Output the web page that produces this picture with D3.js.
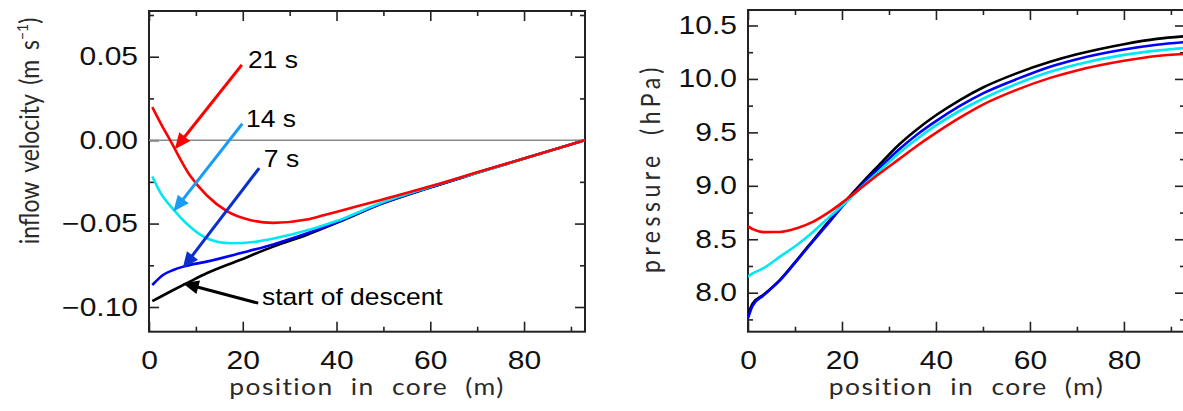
<!DOCTYPE html>
<html lang="en">
<head>
<meta charset="utf-8">
<title>inflow velocity and pressure along the core</title>
<script src="https://cdn.jsdelivr.net/npm/d3@7"></script>
<style>
  body { margin: 0; background: #fff; }
  .num text { font-family: "Liberation Sans", Arial, sans-serif; font-size: 25px; fill: #111;
              transform-box: fill-box; transform-origin: center; transform: scaleX(1.2); }
  .num-y text { transform-origin: right center; }
  .note { font-family: "Liberation Sans", Arial, sans-serif; font-size: 23px; fill: #000;
          transform-box: fill-box; transform-origin: left center; transform: scaleX(1.15); }
  .ttl { font-family: Lato, "DejaVu Sans", sans-serif; font-size: 23px; fill: #2a2a2a; }
</style>
</head>
<body>
<div id="chart"></div>
<script>
// ---- data ----
const xDomain = [0, 93];
const xMajor = [0, 20, 40, 60, 80];
const xMinor = [10, 30, 50, 70, 90];
const velMajor = [-0.10, -0.05, 0, 0.05];
const velMinor = [-0.075, -0.025, 0.025, 0.075];
const presMajor = [8.0, 8.5, 9.0, 9.5, 10.0, 10.5];
const presMinor = [7.75, 8.25, 8.75, 9.25, 9.75, 10.25];

// inflow velocity (m/s) vs position in core (m)
const vBlackX = [0.7, 5.2, 8.7, 12.3, 19.4, 26.5, 33.6, 40.7, 49.3, 60, 70, 80, 93];
const vBlackY = [-0.0965, -0.0898, -0.0848, -0.0798, -0.0718, -0.0638, -0.0568, -0.0488, -0.0385, -0.0284, -0.0196, -0.011, 0];
const vBlueX = [0.7, 3, 5.2, 7.3, 12.3, 19.4, 26.5, 33.6, 40.7, 49.3, 60, 70, 80, 93];
const vBlueY = [-0.0868, -0.0808, -0.0778, -0.0758, -0.0728, -0.0678, -0.0625, -0.056, -0.0485, -0.0383, -0.0283, -0.0196, -0.011, 0];
const vCyanX = [0.7, 2.3, 5.2, 8.7, 12.3, 17.3, 23, 30, 40.7, 49.3, 60, 70, 80, 93];
const vCyanY = [-0.0218, -0.0308, -0.0415, -0.0518, -0.0588, -0.0618, -0.0608, -0.0568, -0.0478, -0.0378, -0.028, -0.0195, -0.011, 0];
const vRedX = [0.7, 2.7, 4.5, 8.7, 12.3, 16.6, 21.5, 26.5, 33.6, 37, 40.7, 49.3, 60, 70, 80, 93];
const vRedY = [0.0198, 0.009, 0, -0.021, -0.033, -0.0425, -0.0478, -0.0496, -0.0476, -0.0452, -0.0424, -0.036, -0.0277, -0.0193, -0.011, 0];

// pressure (hPa) vs position in core (m)
const pX = [0, 1, 3.3, 6.8, 10.4, 13.9, 17.4, 21, 24.5, 28, 32, 36, 40, 45, 50, 57, 64.3, 70, 80, 87, 93];
const pBlack = [7.80, 7.90, 7.98, 8.12, 8.306, 8.493, 8.68, 8.87, 9.04, 9.20, 9.38, 9.53, 9.66, 9.80, 9.92, 10.05, 10.16, 10.23, 10.325, 10.375, 10.40];
const pBlue = [7.76, 7.88, 7.975, 8.115, 8.30, 8.485, 8.665, 8.855, 9.02, 9.17, 9.335, 9.48, 9.605, 9.745, 9.865, 9.995, 10.115, 10.185, 10.275, 10.32, 10.345];
const pCyan = [8.15, 8.18, 8.229, 8.337, 8.447, 8.571, 8.712, 8.852, 9.0, 9.14, 9.30, 9.44, 9.565, 9.70, 9.815, 9.95, 10.067, 10.135, 10.225, 10.265, 10.29];
const pRed = [8.62, 8.595, 8.567, 8.568, 8.603, 8.665, 8.758, 8.875, 8.995, 9.115, 9.245, 9.375, 9.495, 9.635, 9.76, 9.895, 10.01, 10.08, 10.17, 10.215, 10.235];

// annotations on the velocity panel (data units)
const noteText = ['21 s', '14 s', '7 s', 'start of descent'];
const notePos = [[21.1, 0.0435], [20.7, 0.0076], [24.5, -0.0164], [24.1, -0.0987]];
const arrowTail = [[19.8, 0.0451], [19.9, 0.0098], [23.5, -0.0168], [23.3, -0.0977]];
const arrowTip = [[5.5, -0.0054], [5.2, -0.0428], [7.2, -0.0767], [7.2, -0.0857]];
const arrowColor = ['#ff0000', '#189cf5', '#0a2fd0', '#000000'];

const lineColor = { black: '#000000', blue: '#0000ff', cyan: '#00e8f4', red: '#ff0000' };

// ---- scales ----
const W = 1183, H = 411;
const xL = d3.scaleLinear().domain(xDomain).range([149, 585]);
const yL = d3.scaleLinear().domain([-0.1148, 0.0774]).range([331.7, 11]);
const xR = d3.scaleLinear().domain(xDomain).range([748, 1185]);
const yR = d3.scaleLinear().domain([7.635, 10.645]).range([331.7, 10]);

const svg = d3.select('#chart').append('svg')
  .attr('width', W).attr('height', H)
  .style('display', 'block');

function frame(x, y, yMajor, yMinor, yFmt, id) {
  const x0 = x.range()[0], x1 = x.range()[1], yb = y.range()[0], yt = y.range()[1];
  const g = svg.append('g');
  const add = (axis, tx, ty) => g.append('g')
    .attr('transform', `translate(${tx},${ty})`)
    .call(axis)
    .call(a => a.select('.domain').remove())
    .call(a => a.selectAll('line').attr('stroke', '#222').attr('stroke-width', 1.6));

  add(d3.axisBottom(x).tickValues(xMajor).tickSize(-10).tickPadding(19.5).tickFormat(d3.format('d')), 0, yb)
    .attr('class', 'num').attr('font-family', null).attr('font-size', null);
  add(d3.axisBottom(x).tickValues(xMinor).tickSize(-5).tickFormat(''), 0, yb);
  add(d3.axisTop(x).tickValues(xMajor).tickSize(-10).tickFormat(''), 0, yt);
  add(d3.axisTop(x).tickValues(xMinor).tickSize(-5).tickFormat(''), 0, yt);
  add(d3.axisLeft(y).tickValues(yMajor).tickSize(-10).tickPadding(11).tickFormat(yFmt), x0, 0)
    .attr('class', 'num num-y').attr('font-family', null).attr('font-size', null);
  add(d3.axisLeft(y).tickValues(yMinor).tickSize(-5).tickFormat(''), x0, 0);
  add(d3.axisRight(y).tickValues(yMajor).tickSize(-10).tickFormat(''), x1, 0);
  add(d3.axisRight(y).tickValues(yMinor).tickSize(-5).tickFormat(''), x1, 0);

  g.append('rect')
    .attr('x', x0).attr('y', yt).attr('width', x1 - x0).attr('height', yb - yt)
    .attr('fill', 'none').attr('stroke', '#222').attr('stroke-width', 2);

  svg.append('clipPath').attr('id', id)
    .append('rect').attr('x', x0).attr('y', yt).attr('width', x1 - x0).attr('height', yb - yt);
}

frame(xL, yL, velMajor, velMinor, d3.format('.2f'), 'clipL');
frame(xR, yR, presMajor, presMinor, d3.format('.1f'), 'clipR');

// zero line
svg.append('line')
  .attr('x1', xL(xDomain[0])).attr('x2', xL(xDomain[1]))
  .attr('y1', yL(0)).attr('y2', yL(0))
  .attr('stroke', '#8a8a8a').attr('stroke-width', 1.5);

function curve(x, y, xs, ys, color, clip) {
  const gen = d3.line().x(d => x(d[0])).y(d => y(d[1])).curve(d3.curveMonotoneX);
  svg.append('path')
    .datum(d3.zip(xs, ys))
    .attr('clip-path', `url(#${clip})`)
    .attr('d', gen)
    .attr('fill', 'none')
    .attr('stroke', color)
    .attr('stroke-width', 2.6);
}

curve(xL, yL, vBlackX, vBlackY, lineColor.black, 'clipL');
curve(xL, yL, vBlueX, vBlueY, lineColor.blue, 'clipL');
curve(xL, yL, vCyanX, vCyanY, lineColor.cyan, 'clipL');
curve(xL, yL, vRedX, vRedY, lineColor.red, 'clipL');

curve(xR, yR, pX, pBlack, lineColor.black, 'clipR');
curve(xR, yR, pX, pBlue, lineColor.blue, 'clipR');
curve(xR, yR, pX, pCyan, lineColor.cyan, 'clipR');
curve(xR, yR, pX, pRed, lineColor.red, 'clipR');

// arrows + labels
const headLen = 16, headHalf = 7;
arrowTail.forEach((t, i) => {
  const x1 = xL(t[0]), y1 = yL(t[1]);
  const x2 = xL(arrowTip[i][0]), y2 = yL(arrowTip[i][1]);
  const len = Math.hypot(x2 - x1, y2 - y1);
  const ux = (x2 - x1) / len, uy = (y2 - y1) / len;
  const bx = x2 - ux * headLen, by = y2 - uy * headLen;
  svg.append('line')
    .attr('x1', x1).attr('y1', y1).attr('x2', bx + ux * 2).attr('y2', by + uy * 2)
    .attr('stroke', arrowColor[i]).attr('stroke-width', 3);
  svg.append('path')
    .attr('d', `M${x2},${y2}L${bx - uy * headHalf},${by + ux * headHalf}L${bx + uy * headHalf},${by - ux * headHalf}Z`)
    .attr('fill', arrowColor[i]);
  svg.append('text')
    .attr('class', 'note')
    .attr('x', xL(notePos[i][0])).attr('y', yL(notePos[i][1]))
    .text(noteText[i]);
});

// axis titles
[xL, xR].forEach(x => {
  const cx = (x.range()[0] + x.range()[1]) / 2;
  svg.append('text').attr('class', 'ttl')
    .attr('transform', `translate(${cx},395) scale(1.15,1)`)
    .attr('text-anchor', 'middle').attr('word-spacing', 8).attr('letter-spacing', 1.2)
    .text('position in core (m)');
});

const yt1 = svg.append('text').attr('class', 'ttl')
  .attr('transform', 'translate(39,131) scale(1.15,1) rotate(-90)')
  .attr('text-anchor', 'middle').attr('font-size', 22).attr('word-spacing', 4);
yt1.append('tspan').text('inflow velocity (m s');
yt1.append('tspan').attr('font-size', 14).attr('dy', -10).text('\u22121');
yt1.append('tspan').attr('dy', 10).text(')');

svg.append('text').attr('class', 'ttl')
  .attr('transform', 'translate(660,168) scale(1.15,1) rotate(-90)')
  .attr('text-anchor', 'middle').attr('font-size', 22).attr('letter-spacing', 4.5).attr('word-spacing', 6)
  .text('pressure (hPa)');
</script>
</body>
</html>
